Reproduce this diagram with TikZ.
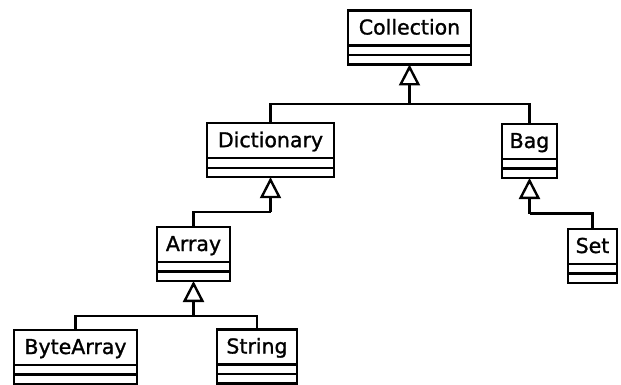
\documentclass[tikz,border=0pt]{standalone}
\usepackage{fontspec}
\setmainfont{DejaVu Sans}
\newfontfamily\umlfont[FakeBold=1.2]{DejaVu Sans}
\usetikzlibrary{arrows.meta}
\tikzset{
  cls/.style={draw, line width=2.4pt, inner sep=0pt, outer sep=0pt, minimum height=54pt,
    path picture={
      \draw[line width=2.4pt] ([yshift=-35pt]path picture bounding box.north west) -- ([yshift=-35pt]path picture bounding box.north east);
      \draw[line width=2.4pt] ([yshift=-44.5pt]path picture bounding box.north west) -- ([yshift=-44.5pt]path picture bounding box.north east);
    }},
  title/.style={label={[anchor=base, yshift=-24pt, inner sep=0pt, font=\umlfont\fontsize{20.5}{22}\selectfont]north:#1}},
  conn/.style={line width=2.4pt},
  inh/.style={line width=2.4pt, -{Triangle[open, length=21pt, width=21pt, line width=2.4pt]}}
}
\begin{document}
\begin{tikzpicture}[x=1pt,y=-1pt]
\useasboundingbox (0,0) rectangle (621,385);
\node[cls, minimum width=123pt, title=Collection] (coll) at (409.5,37.5) {};
\node[cls, minimum width=127pt, title=Dictionary] (dict) at (270.5,150.2) {};
\node[cls, minimum width=55pt, title=Bag] (bag) at (529.5,151) {};
\node[cls, minimum width=73pt, title=Array] (arr) at (193.5,254) {};
\node[cls, minimum width=49pt, title=Set] (set) at (592.5,256) {};
\node[cls, minimum width=123pt, title=ByteArray] (bytea) at (75.5,357) {};
\node[cls, minimum width=80pt, title=String] (str) at (257,356.5) {};
\coordinate (j1) at (409.5,104);
\coordinate (j2) at (270.5,212);
\coordinate (j3) at (529.5,213.5);
\coordinate (j4) at (193.5,316);
\draw[conn] (dict.north) |- (j1);
\draw[conn] (bag.north) |- (j1);
\draw[inh] (j1) -- (coll.south);
\draw[conn] (arr.north) |- (j2);
\draw[inh] (j2) -- (dict.south);
\draw[conn] (set.north) |- (j3);
\draw[inh] (j3) -- (bag.south);
\draw[conn] (bytea.north) |- (j4);
\draw[conn] (str.north) |- (j4);
\draw[inh] (j4) -- (arr.south);
\end{tikzpicture}
\end{document}
